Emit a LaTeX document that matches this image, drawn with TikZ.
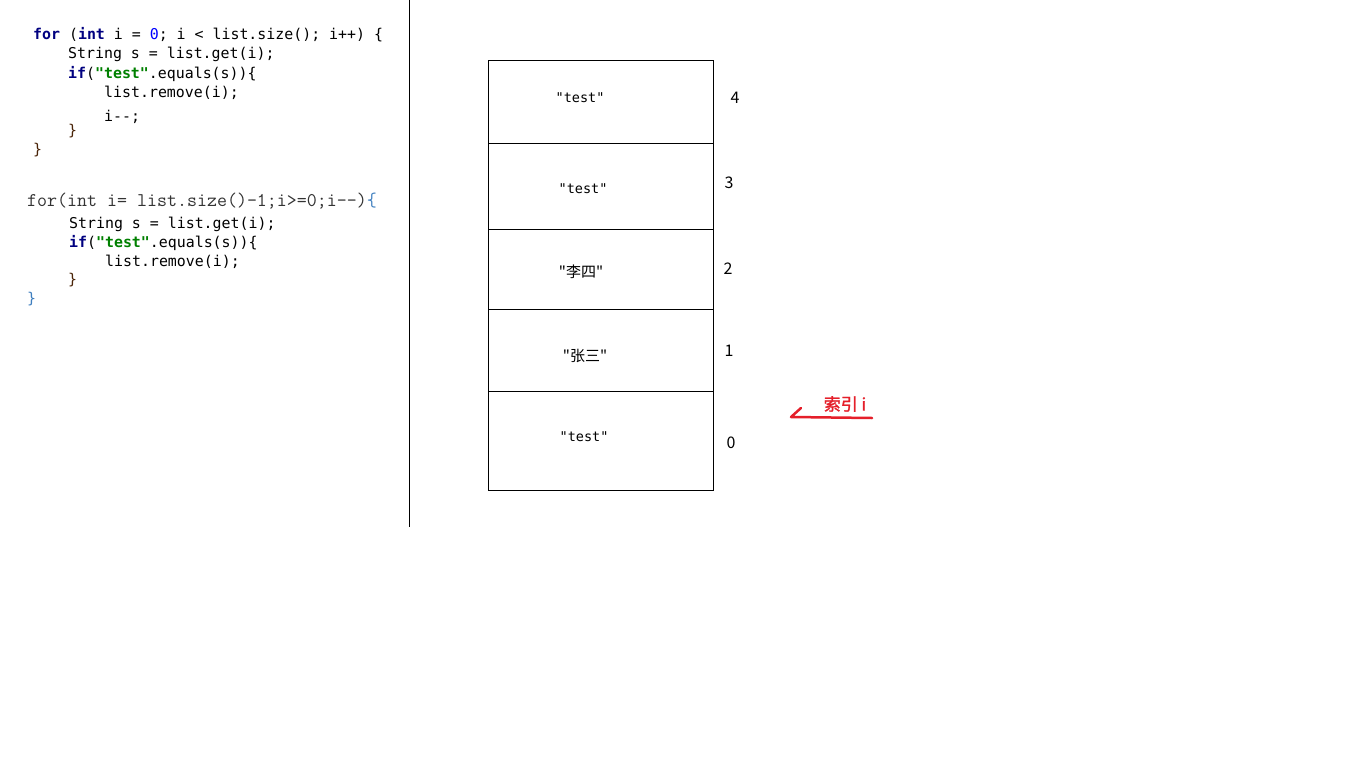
\documentclass[tikz,border=0pt]{standalone}
\usepackage{fontspec}
\newfontfamily\codefont{DejaVu Sans Mono}
\newfontfamily\cjk{Noto Sans CJK SC}
\newfontfamily\cjkbold[FakeBold=1.5]{Noto Sans CJK SC}
\definecolor{kwnavy}{HTML}{000080}
\definecolor{strgreen}{HTML}{008000}
\definecolor{numblue}{HTML}{0000FF}
\definecolor{bracebrown}{HTML}{4A2408}
\definecolor{plaingray}{HTML}{333333}
\definecolor{braceblue}{HTML}{3F7FBF}
\definecolor{markred}{HTML}{E51F2A}
\tikzset{
  code/.style={anchor=base west, inner sep=0pt, font=\codefont\fontsize{14.9}{17}\selectfont},
  oldcode/.style={anchor=base west, inner sep=0pt, text=plaingray, font=\ttfamily\fontsize{19.4}{21}\selectfont},
  cell/.style={inner sep=0pt, font=\codefont\fontsize{13.5}{16}\selectfont},
  cjkcell/.style={inner sep=0pt, font=\cjk\fontsize{15}{17}\selectfont},
  idx/.style={inner sep=0pt, font=\cjk\fontsize{16}{18}\selectfont},
}
\newcommand{\kw}[1]{\textbf{\textcolor{kwnavy}{#1}}}
\newcommand{\str}[1]{\textbf{\textcolor{strgreen}{#1}}}
\begin{document}
\begin{tikzpicture}[x=1pt,y=-1pt]
    \fill[white] (0,0) rectangle (1362,768);
    \useasboundingbox (0,0) rectangle (1362,768);
    % first loop, counting up
    \node[code] (up1) at (33,40) {\kw{for} (\kw{int} i = \textcolor{numblue}{0}; i < list.size(); i++) \{};
    \node[code] (up2) at (68,59) {String s = list.get(i);};
    \node[code] (up3) at (68,78) {\kw{if}(\str{"test"}.equals(s))\{};
    \node[code] (up4) at (104,97) {list.remove(i);};
    \node[code] (up5) at (104,121) {i-{}-;};
    \node[code,text=bracebrown] (up6) at (68,135) {\}};
    \node[code,text=bracebrown] (up7) at (33,154) {\}};
    % second loop, counting down
    \node[oldcode] (down1) at (27,206) {for(int i= list.size()-1;i>=0;i-{}-)\textcolor{braceblue}{\{}};
    \node[code] (down2) at (69,228) {String s = list.get(i);};
    \node[code] (down3) at (69,247) {\kw{if}(\str{"test"}.equals(s))\{};
    \node[code] (down4) at (105,266) {list.remove(i);};
    \node[code,text=bracebrown] (down5) at (68,284) {\}};
    \node[code,text=braceblue] (down6) at (27,303) {\}};
    \draw[line width=1pt] (409,0) -- (409,527);
    % the list
    \foreach \top/\bot in {61/143,143/229,229/309,309/391,391/490} {
      \draw[line width=1pt] (488,\top) rectangle (713,\bot);
    }
    \node[cell] (e4) at (580,98) {"test"};
    \node[cell] (e3) at (583,189) {"test"};
    \node[cjkcell] (e2) at (581,272) {"李四"};
    \node[cjkcell] (e1) at (585,356) {"张三"};
    \node[cell] (e0) at (584,437) {"test"};
    \foreach \n/\x/\y in {4/735/98,3/729/183,2/728/269,1/729/351,0/731/443} {
      \node[idx] (i\n) at (\x,\y) {\n};
    }
    % pointer
    \node[inner sep=0pt, text=markred, font=\cjkbold\fontsize{17}{19}\selectfont] (ptr) at (845,404) {索引 i};
    \coordinate (tail) at (872,418);
    \coordinate (head) at (791,417);
    \coordinate (barb) at (801,408);
    \draw[markred, line width=2.5pt, line cap=round, line join=round] (tail) -- (head) -- (barb);
\end{tikzpicture}
\end{document}
